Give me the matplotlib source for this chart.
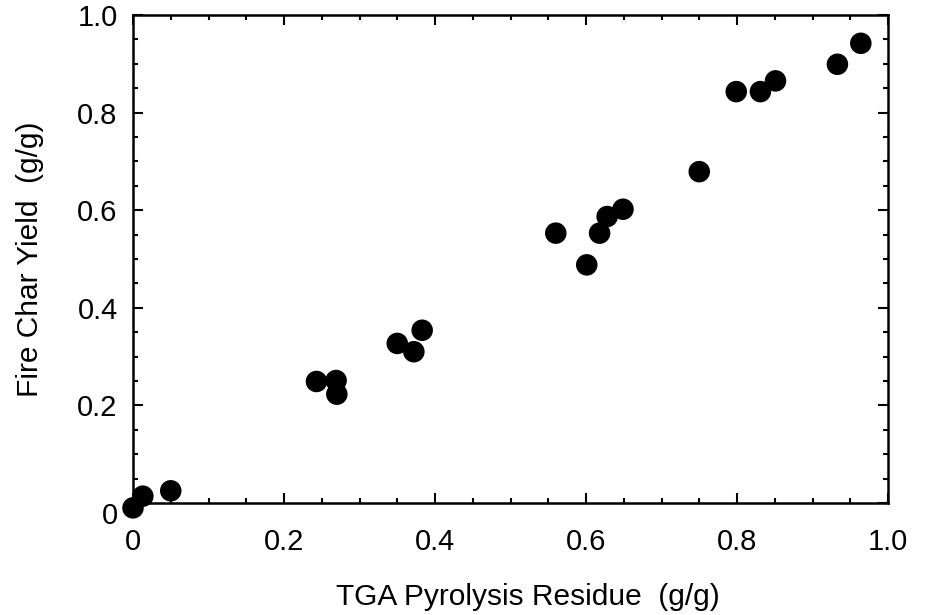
import matplotlib
matplotlib.use("Agg")
import matplotlib.pyplot as plt
import matplotlib.transforms as mtransforms
from matplotlib.ticker import MultipleLocator, FixedLocator, FixedFormatter

# Data
tga_residue = [0.000, 0.013, 0.050, 0.243, 0.269, 0.270, 0.350, 0.372, 0.383,
               0.560, 0.601, 0.618, 0.628, 0.649, 0.750, 0.799, 0.831, 0.851,
               0.933, 0.964]
fire_char = [-0.010, 0.014, 0.025, 0.249, 0.251, 0.223, 0.327, 0.310, 0.354,
             0.553, 0.488, 0.553, 0.587, 0.602, 0.679, 0.843, 0.843, 0.865,
             0.899, 0.942]
tick_vals = [0.0, 0.2, 0.4, 0.6, 0.8, 1.0]
tick_labels = ["0", "0.2", "0.4", "0.6", "0.8", "1.0"]

plt.rcParams['font.family'] = ['Liberation Sans', 'DejaVu Sans']

fig = plt.figure(figsize=(9.3, 6.15), dpi=100)
ax = fig.add_axes([133/930, (615-503)/615, (888-133)/930, (503-15)/615])

ax.scatter(tga_residue, fire_char, s=15.5**2, c='black', edgecolors='none',
           zorder=3, clip_on=False)

ax.set_xlim(0, 1.0)
ax.set_ylim(0, 1.0)

ax.xaxis.set_major_locator(FixedLocator(tick_vals))
ax.xaxis.set_major_formatter(FixedFormatter(tick_labels))
ax.yaxis.set_major_locator(FixedLocator(tick_vals))
ax.yaxis.set_major_formatter(FixedFormatter(tick_labels))
ax.xaxis.set_minor_locator(MultipleLocator(0.05))
ax.yaxis.set_minor_locator(MultipleLocator(0.05))

for s in ax.spines.values():
    s.set_linewidth(1.8)

ax.tick_params(which='both', direction='in', top=True, right=True,
               width=1.5, colors='black')
ax.tick_params(which='major', length=7)
ax.tick_params(which='minor', length=3.5)
ax.tick_params(axis='x', which='major', labelsize=21, pad=18)
ax.tick_params(axis='y', which='major', labelsize=21, pad=11)

# the "0" on the y axis sits a little below its tick in the reference
fig.canvas.draw()
ylabels = ax.get_yticklabels()
off = mtransforms.ScaledTranslation(0, -10/100, fig.dpi_scale_trans)
ylabels[0].set_transform(ylabels[0].get_transform() + off)

ax.set_xlabel("TGA Pyrolysis Residue  (g/g)", fontsize=21.5)
ax.set_ylabel("Fire Char Yield  (g/g)", fontsize=21.5, va='center')
ax.xaxis.set_label_coords((528-133)/755, (503-583)/488)
ax.yaxis.set_label_coords((30-133)/755, 0.5)

fig.savefig("out.png", dpi=100)
